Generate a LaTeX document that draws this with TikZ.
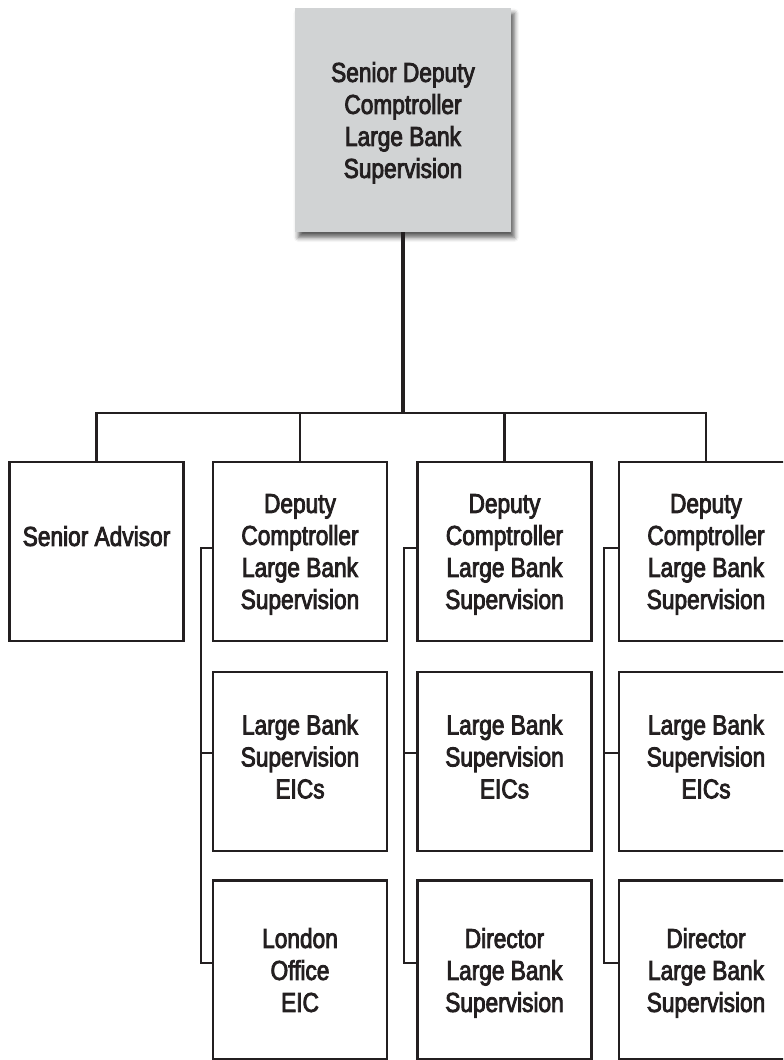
\documentclass[tikz,border=0pt]{standalone}
\usepackage{fontspec}
\setmainfont{Liberation Sans}[FakeStretch=0.83,FakeBold=3]
\usetikzlibrary{shadows.blur}
\definecolor{ink}{HTML}{231F20}
\definecolor{headfill}{HTML}{D1D3D4}
\tikzset{
  boxtext/.style={text=ink, align=center, inner sep=0pt, text depth=0pt,
    font=\fontsize{20.5pt}{24pt}\selectfont},
  unitbox/.style={boxtext, draw=ink, line width=1.7pt,
    minimum width=130.5pt, minimum height=134.25pt},
  lowrow/.style={text depth=7.5pt},
  headbox/.style={boxtext, fill=headfill, draw=none,
    minimum width=162pt, minimum height=168pt,
    blur shadow={shadow xshift=2.5pt, shadow yshift=-4pt,
      shadow blur radius=3.5pt, shadow opacity=65}},
  trunk/.style={draw=ink, line width=2.3pt},
  link/.style={draw=ink, line width=1.6pt},
}
\begin{document}
\begin{tikzpicture}[x=0.75pt,y=-0.75pt]
\useasboundingbox (0,0) rectangle (783,1060);
\begin{scope}
\clip (0,0) rectangle (783,1060);

% head of the unit
\node[headbox] (head) at (403,120)
  {Senior Deputy\\Comptroller\\Large Bank\\Supervision};

% senior advisor
\node[unitbox] (adv) at (96.5,551.5) {};
\node[boxtext] (advtext) at (96.5,536) {Senior Advisor};

% three deputy columns
\foreach \n/\x in {b/300, c/504.5, d/706} {
  \node[unitbox] (\n1) at (\x,551.5)
    {Deputy\\Comptroller\\Large Bank\\Supervision};
  \node[unitbox, lowrow] (\n2) at (\x,761.5)
    {Large Bank\\Supervision\\EICs};
}
\node[unitbox] (b3) at (300,970) {London\\Office\\EIC};
\node[unitbox] (c3) at (504.5,970) {Director\\Large Bank\\Supervision};
\node[unitbox] (d3) at (706,970) {Director\\Large Bank\\Supervision};

% trunk and bus
\coordinate (bus) at (403,413);
\draw[trunk] (head.south) -- (head.south |- bus);
\draw[link] (adv.north) -- (adv.north |- bus) -- (d1.north |- bus) -- (d1.north);
\draw[link] (b1.north) -- (b1.north |- bus);
\draw[link] (c1.north) -- (c1.north |- bus);

% brackets joining each column
\foreach \n/\len in {b/11, c/12, d/14} {
  \draw[link] ([shift={(0,-3.5)}]\n1.west) -- ++(-\len,0)
    |- ([shift={(0,-7)}]\n3.west);
  \draw[link] ([shift={(0,-8.5)}]\n2.west) -- ++(-\len,0);
}
\end{scope}
\end{tikzpicture}
\end{document}
